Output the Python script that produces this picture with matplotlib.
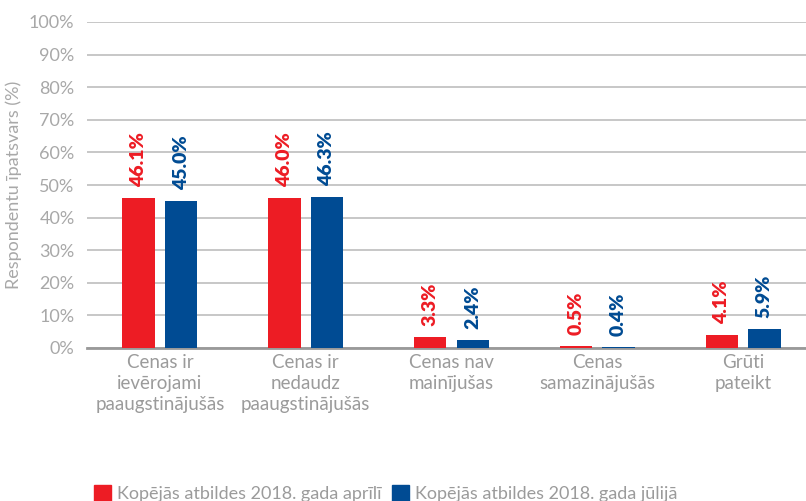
import matplotlib
matplotlib.use("Agg")
import matplotlib.pyplot as plt
import numpy as np
from matplotlib.patches import Patch

categories = ["Cenas ir\nievērojami\npaaugstinājušās", "Cenas ir\nnedaudz\npaaugstinājušās",
              "Cenas nav\nmainījušas", "Cenas\nsamazinājušās", "Grūti\npateikt"]
april = [46.1, 46.0, 3.3, 0.5, 4.1]
july = [45.0, 46.3, 2.4, 0.4, 5.9]
series_names = ["Kopējās atbildes 2018. gada aprīlī", "Kopējās atbildes 2018. gada jūlijā"]
yticks = list(range(0, 101, 10))

RED = "#ED1C24"
BLUE = "#004B93"
GRAY = "#9B9B9B"

plt.rcParams['font.family'] = ['Lato', 'DejaVu Sans']

fig = plt.figure(figsize=(8.06, 5.01), dpi=100)
ax = fig.add_axes([87/806, 1-348/501, 729/806, 326/501])

x = np.arange(len(categories))
w = 0.222
off = 0.146
b1 = ax.bar(x - off, april, w, color=RED, zorder=3)
b2 = ax.bar(x + off, july, w, color=BLUE, zorder=3)

for bars, vals, col in [(b1, april, RED), (b2, july, BLUE)]:
    for b, v in zip(bars, vals):
        ax.annotate(f"{v:.1f}%", (b.get_x() + b.get_width()/2, v), xytext=(0, 8),
                    textcoords="offset points", rotation=90, ha="center", va="bottom",
                    color=col, fontweight="heavy", fontsize=14)

ax.set_xlim(-0.5, len(categories) - 0.5)
ax.set_ylim(0, 100)
ax.set_yticks(yticks)
ax.set_yticklabels([f"{t}%" for t in yticks], color="#A8A8A8", fontsize=13)
ax.yaxis.grid(True, color="#BEBEBE", linewidth=1.2, zorder=0)
ax.set_axisbelow(True)
ax.tick_params(axis="y", length=0, pad=9)
ax.tick_params(axis="x", length=0, pad=4)
ax.set_xticks(x)
ax.set_xticklabels(categories, color=GRAY, fontsize=13.5, linespacing=1.3)
for s in ["top", "right", "left"]:
    ax.spines[s].set_visible(False)
ax.spines["bottom"].set_color("#999999")
ax.spines["bottom"].set_linewidth(2)
ax.set_ylabel("Respondentu īpatsvars (%)", color="#A8A8A8", fontsize=13, labelpad=5)

handles = [Patch(color=RED), Patch(color=BLUE)]
leg = fig.legend(handles, series_names, loc="lower left", bbox_to_anchor=(78/806, -0.035),
                 ncol=2, frameon=False, fontsize=13, handlelength=0.95, handleheight=0.95,
                 handletextpad=0.3, columnspacing=0.6)
for t in leg.get_texts():
    t.set_color(GRAY)

fig.savefig("out.png", dpi=100)
